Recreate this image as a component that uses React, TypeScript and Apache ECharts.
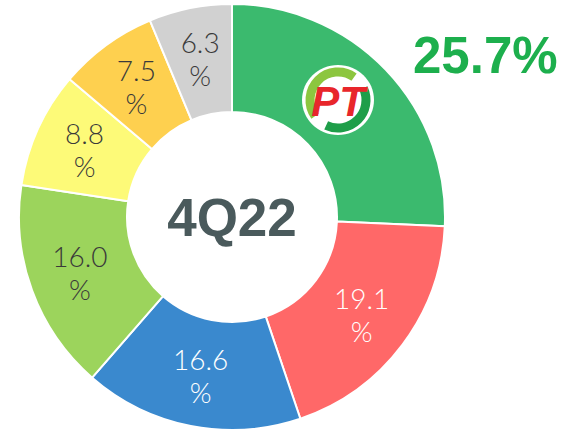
import React, { useEffect, useRef } from "react";
import * as echarts from "echarts";

const categories = ["A", "B", "C", "D", "E", "F", "G"];
const values = [25.7, 19.1, 16.6, 16.0, 8.8, 7.5, 6.3];
const colors = ["#3BBA6E", "#FF6868", "#3A89CE", "#9CD45C", "#FDFA78", "#FED04F", "#D1D1D1"];
const labelColors = ["#404040", "#FFFFFF", "#FFFFFF", "#3A3A3A", "#3A3A3A", "#3A3A3A", "#3A3A3A"];
const centerLabel = "4Q22";
const highlightLabel = "25.7%";

export default function App() {
  const ref = useRef<HTMLDivElement>(null);
  useEffect(() => {
    if (!ref.current) return;
    const chart = echarts.init(ref.current, null, { renderer: "svg" });
    const data = values.map((v, i) => ({
      name: categories[i],
      value: v,
      itemStyle: { color: colors[i] },
      label: {
        show: i !== 0,
        color: labelColors[i],
      },
    }));
    chart.setOption({
      animation: false,
      backgroundColor: "#FFFFFF",
      series: [
        {
          type: "pie",
          center: [232, 217],
          radius: [105, 213],
          startAngle: 90,
          clockwise: true,
          avoidLabelOverlap: false,
          itemStyle: { borderColor: "#FFFFFF", borderWidth: 2 },
          label: {
            show: true,
            position: "inside",
            formatter: (p: any) => p.value.toFixed(1) + "\n%",
            fontFamily: "Lato",
            fontWeight: 300,
            fontSize: 28,
            lineHeight: 33,
            align: "center",
          },
          labelLine: { show: false },
          emphasis: { disabled: true },
          data,
        },
      ],
      graphic: [
        {
          type: "text",
          z: 100,
          x: 232,
          y: 217,
          style: {
            text: centerLabel,
            fontFamily: "Liberation Sans",
            fontWeight: "bold",
            fontSize: 53,
            fill: "#4A5A5C",
            align: "center",
            verticalAlign: "middle",
          },
        },
        {
          type: "text",
          z: 100,
          x: 413,
          y: 55,
          style: {
            text: highlightLabel,
            fontFamily: "Liberation Sans",
            fontWeight: "bold",
            fontSize: 51,
            fill: "#1DAF4D",
            align: "left",
            verticalAlign: "middle",
          },
        },
        {
          type: "group",
          x: 338,
          y: 100,
          z: 100,
          children: [
            { type: "ellipse", z: 100, shape: { cx: 0, cy: 0, rx: 36, ry: 35 }, style: { fill: "#FFFFFF" } },
            {
              type: "arc",
              z: 101,
              shape: { cx: 0, cy: 0, r: 28, startAngle: (145 * Math.PI) / 180, endAngle: (305 * Math.PI) / 180, clockwise: true },
              style: { stroke: "#8CC63F", lineWidth: 9, fill: null },
            },
            {
              type: "arc",
              z: 101,
              shape: { cx: 0, cy: 0, r: 28, startAngle: (-25 * Math.PI) / 180, endAngle: (115 * Math.PI) / 180, clockwise: true },
              style: { stroke: "#1E9E49", lineWidth: 9, fill: null },
            },
            {
              type: "text",
              z: 102,
              x: 0,
              y: 1,
              style: {
                text: "PT",
                fontFamily: "Liberation Sans",
                fontWeight: "bold",
                fontStyle: "italic",
                fontSize: 42,
                fill: "#E8262B",
                align: "center",
                verticalAlign: "middle",
              },
            },
          ],
        },
      ],
    });
    return () => chart.dispose();
  }, []);
  return (
    <div
      ref={ref}
      style={{ position: "fixed", left: 0, top: 0, width: 569, height: 433 }}
    />
  );
}
